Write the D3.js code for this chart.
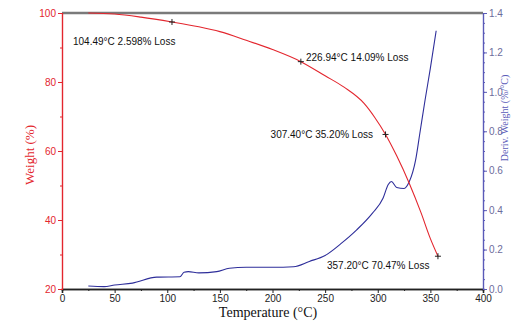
<!DOCTYPE html>
<html><head><meta charset="utf-8">
<script src="https://cdn.jsdelivr.net/npm/d3@7"></script>
<style>body{margin:0;background:#fff}svg{display:block}</style>
</head><body>
<script>
const weightT = [25, 50, 75, 104.49, 130, 150, 175, 200, 226.94, 250, 268, 287, 297, 307.4, 318, 330, 341, 350, 357.2];
const weightV = [100, 99.7, 98.8, 97.4, 96.0, 94.6, 92.1, 89.4, 85.9, 81.8, 78.5, 73.8, 69.8, 64.8, 58.6, 50.6, 42.2, 34.6, 29.5];
const derivT = [25, 40, 50, 67, 90, 112, 116, 120, 130, 147, 159, 175, 200, 220, 235, 250, 265, 280, 295, 305, 310, 313, 318, 325, 330, 336, 340, 345, 350, 355.5];
const derivV = [0.015, 0.012, 0.02, 0.03, 0.06, 0.062, 0.085, 0.088, 0.082, 0.088, 0.105, 0.11, 0.11, 0.113, 0.14, 0.17, 0.23, 0.30, 0.385, 0.46, 0.53, 0.545, 0.515, 0.51, 0.545, 0.655, 0.79, 0.96, 1.12, 1.31];
const markT = [104.49, 226.94, 307.4, 357.2];
const markW = [97.4, 85.9, 64.8, 29.5];
const markLabels = ["104.49°C 2.598% Loss", "226.94°C 14.09% Loss", "307.40°C 35.20% Loss", "357.20°C 70.47% Loss"];
const xTicks = [0, 50, 100, 150, 200, 250, 300, 350, 400];
const yTicks = [20, 40, 60, 80, 100];
const y2Ticks = [0.0, 0.2, 0.4, 0.6, 0.8, 1.0, 1.2, 1.4];

const W = 515, H = 323;
const L = 62, R = 483, T = 13, B = 289;
const red = "#e3262e", blue = "#2e2e9a", blueAxis = "#5a5ab8";
const svg = d3.select("body").append("svg").attr("width", W).attr("height", H);
const x = d3.scaleLinear().domain([0, 400]).range([L, R]);
const y = d3.scaleLinear().domain([20, 100]).range([B, T]);
const y2 = d3.scaleLinear().domain([0, 1.4]).range([B, T]);

// top frame
svg.append("line").attr("x1", L).attr("x2", R).attr("y1", T).attr("y2", T)
  .attr("stroke", "#7a7a7a").attr("stroke-width", 2.5);

// bottom axis
const gx = svg.append("g").attr("transform", `translate(0,${B})`)
  .call(d3.axisBottom(x).tickValues(xTicks).tickSize(4).tickPadding(2).tickFormat(d3.format("d")));
gx.append("g").call(d3.axisBottom(x).tickValues(d3.range(25, 400, 50)).tickSize(2).tickFormat(""));
gx.selectAll(".domain").attr("stroke", "#222").attr("stroke-width", 1.6);
gx.selectAll("line").attr("stroke", "#222");
gx.selectAll("text").attr("fill", "#222").style("font", "10px 'Liberation Sans', Arial, sans-serif");

// left axis
const gy = svg.append("g").attr("transform", `translate(${L},0)`)
  .call(d3.axisLeft(y).tickValues(yTicks).tickSize(4).tickPadding(2));
gy.append("g").call(d3.axisLeft(y).tickValues(d3.range(30, 100, 20)).tickSize(2).tickFormat(""));
gy.selectAll(".domain").attr("stroke", red).attr("stroke-width", 1.2);
gy.selectAll("line").attr("stroke", red);
gy.selectAll("text").attr("fill", red).style("font", "10px 'Liberation Sans', Arial, sans-serif");

// right axis
const gy2 = svg.append("g").attr("transform", `translate(${R},0)`)
  .call(d3.axisRight(y2).tickValues(y2Ticks).tickSize(4).tickPadding(2).tickFormat(d3.format(".1f")));
gy2.append("g").call(d3.axisRight(y2).tickValues(d3.range(0.05, 1.4, 0.05)).tickSize(2).tickFormat(""));
gy2.selectAll(".domain").attr("stroke", blueAxis).attr("stroke-width", 1.2);
gy2.selectAll("line").attr("stroke", blueAxis);
gy2.selectAll("text").attr("fill", "#6c6c9c").style("font", "10px 'Liberation Sans', Arial, sans-serif");

// lines
const wData = weightT.map((t, i) => [t, weightV[i]]);
const dData = derivT.map((t, i) => [t, derivV[i]]);
svg.append("path").datum(dData).attr("fill", "none").attr("stroke", blue).attr("stroke-width", 1.1)
  .attr("d", d3.line().x(d => x(d[0])).y(d => y2(d[1])).curve(d3.curveMonotoneX));
svg.append("path").datum(wData).attr("fill", "none").attr("stroke", red).attr("stroke-width", 1.1)
  .attr("d", d3.line().x(d => x(d[0])).y(d => y(d[1])).curve(d3.curveMonotoneX));

// markers
markT.forEach((t, i) => {
  const cx = x(t), cy = y(markW[i]);
  svg.append("path").attr("d", `M${cx-3},${cy}H${cx+3}M${cx},${cy-3}V${cy+3}`)
    .attr("stroke", "#222").attr("stroke-width", 1);
});
const labPos = [[73, 45, "start"], [306, 61, "start"], [373, 138, "end"], [327, 269, "start"]];
markLabels.forEach((s, i) => {
  svg.append("text").attr("x", labPos[i][0]).attr("y", labPos[i][1]).attr("text-anchor", labPos[i][2])
    .attr("fill", "#111").style("font", "10px 'Liberation Sans', Arial, sans-serif").text(s);
});

// titles
svg.append("text").attr("x", 268).attr("y", 317).attr("text-anchor", "middle")
  .attr("fill", "#111").style("font", "14px 'Liberation Serif', 'Times New Roman', serif").text("Temperature (°C)");
svg.append("text").attr("transform", "translate(34,155) rotate(-90)").attr("text-anchor", "middle")
  .attr("fill", red).style("font", "13px 'Liberation Serif', 'Times New Roman', serif").text("Weight (%)");
svg.append("text").attr("transform", "translate(508,118) rotate(-90)").attr("text-anchor", "middle")
  .attr("fill", blueAxis).style("font", "10px 'Liberation Serif', 'Times New Roman', serif").text("Deriv. Weight (%/°C)");
</script>
</body></html>
